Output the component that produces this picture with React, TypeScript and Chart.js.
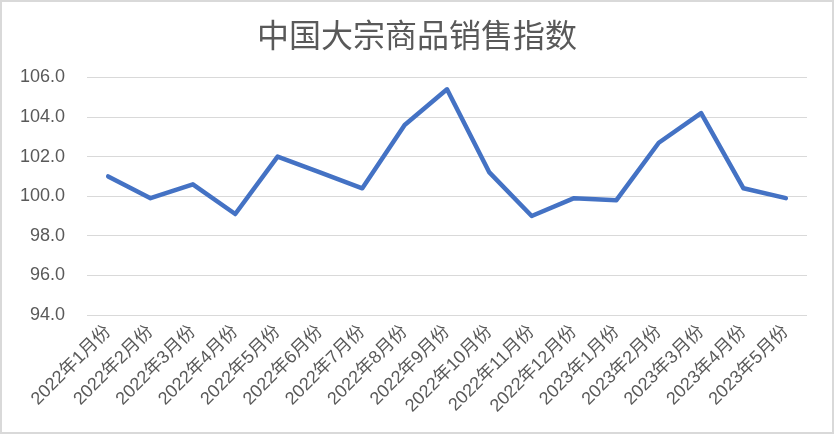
import React, { useEffect, useRef } from "react";
import { Chart, registerables } from "chart.js";

Chart.register(...registerables);

const TITLE = "中国大宗商品销售指数";
const categories = [
  "2022年1月份", "2022年2月份", "2022年3月份", "2022年4月份", "2022年5月份",
  "2022年6月份", "2022年7月份", "2022年8月份", "2022年9月份", "2022年10月份",
  "2022年11月份", "2022年12月份", "2023年1月份", "2023年2月份", "2023年3月份",
  "2023年4月份", "2023年5月份",
];
const indexValues = [
  101.0, 99.9, 100.6, 99.1, 102.0, 101.2, 100.4, 103.6, 105.4, 101.2,
  99.0, 99.9, 99.8, 102.7, 104.2, 100.4, 99.9,
];
const yMin = 94;
const yMax = 106;
const yStep = 2;

const FONT = '"Liberation Sans", "Noto Sans CJK SC", sans-serif';
const TEXT = "#595959";
const GRID = "#d9d9d9";
const LINE = "#4472C4";

export default function App() {
  const ref = useRef<HTMLCanvasElement | null>(null);

  useEffect(() => {
    if (!ref.current) return;
    const chart = new Chart(ref.current, {
      type: "line",
      data: {
        labels: categories,
        datasets: [
          {
            label: TITLE,
            data: indexValues,
            borderColor: LINE,
            backgroundColor: LINE,
            borderWidth: 4.5,
            pointRadius: 0,
            pointHoverRadius: 0,
            tension: 0,
            borderJoinStyle: "round",
            borderCapStyle: "round",
          },
        ],
      },
      options: {
        animation: false,
        responsive: false,
        maintainAspectRatio: false,
        layout: { padding: { left: 0, right: 0, top: 0, bottom: 0 } },
        plugins: {
          legend: { display: false },
          tooltip: { enabled: false },
          title: {
            display: true,
            text: TITLE,
            color: TEXT,
            font: { family: '"Noto Sans CJK SC", sans-serif', size: 32, weight: "normal" },
            padding: { top: 14, bottom: 23 },
          },
        },
        scales: {
          x: {
            offset: true,
            grid: { display: false, drawTicks: false },
            border: { display: false },
            ticks: {
              color: TEXT,
              font: { family: FONT, size: 18 },
              maxRotation: 45,
              minRotation: 45,
              autoSkip: false,
              padding: 6,
            },
            afterFit: (s: any) => {
              s.height = 117;
            },
          },
          y: {
            min: yMin,
            max: yMax,
            grid: { color: GRID, lineWidth: 1, drawTicks: false },
            border: { display: false },
            ticks: {
              stepSize: yStep,
              color: TEXT,
              font: { family: FONT, size: 18 },
              padding: 22,
              callback: (v: any) => Number(v).toFixed(1),
            },
            afterFit: (s: any) => {
              s.width = 85;
            },
          },
          yRight: {
            position: "right",
            min: yMin,
            max: yMax,
            grid: { display: false, drawTicks: false },
            border: { display: false },
            ticks: { display: false },
            afterFit: (s: any) => {
              s.width = 25;
            },
          },
        },
      },
    });
    return () => chart.destroy();
  }, []);

  return (
    <div
      style={{
        position: "fixed",
        left: 0,
        top: 0,
        width: 834,
        height: 434,
        boxSizing: "border-box",
        border: "2px solid #d9d9d9",
        background: "#ffffff",
      }}
    >
      <canvas ref={ref} width={830} height={430} style={{ display: "block", width: 830, height: 430 }} />
    </div>
  );
}
